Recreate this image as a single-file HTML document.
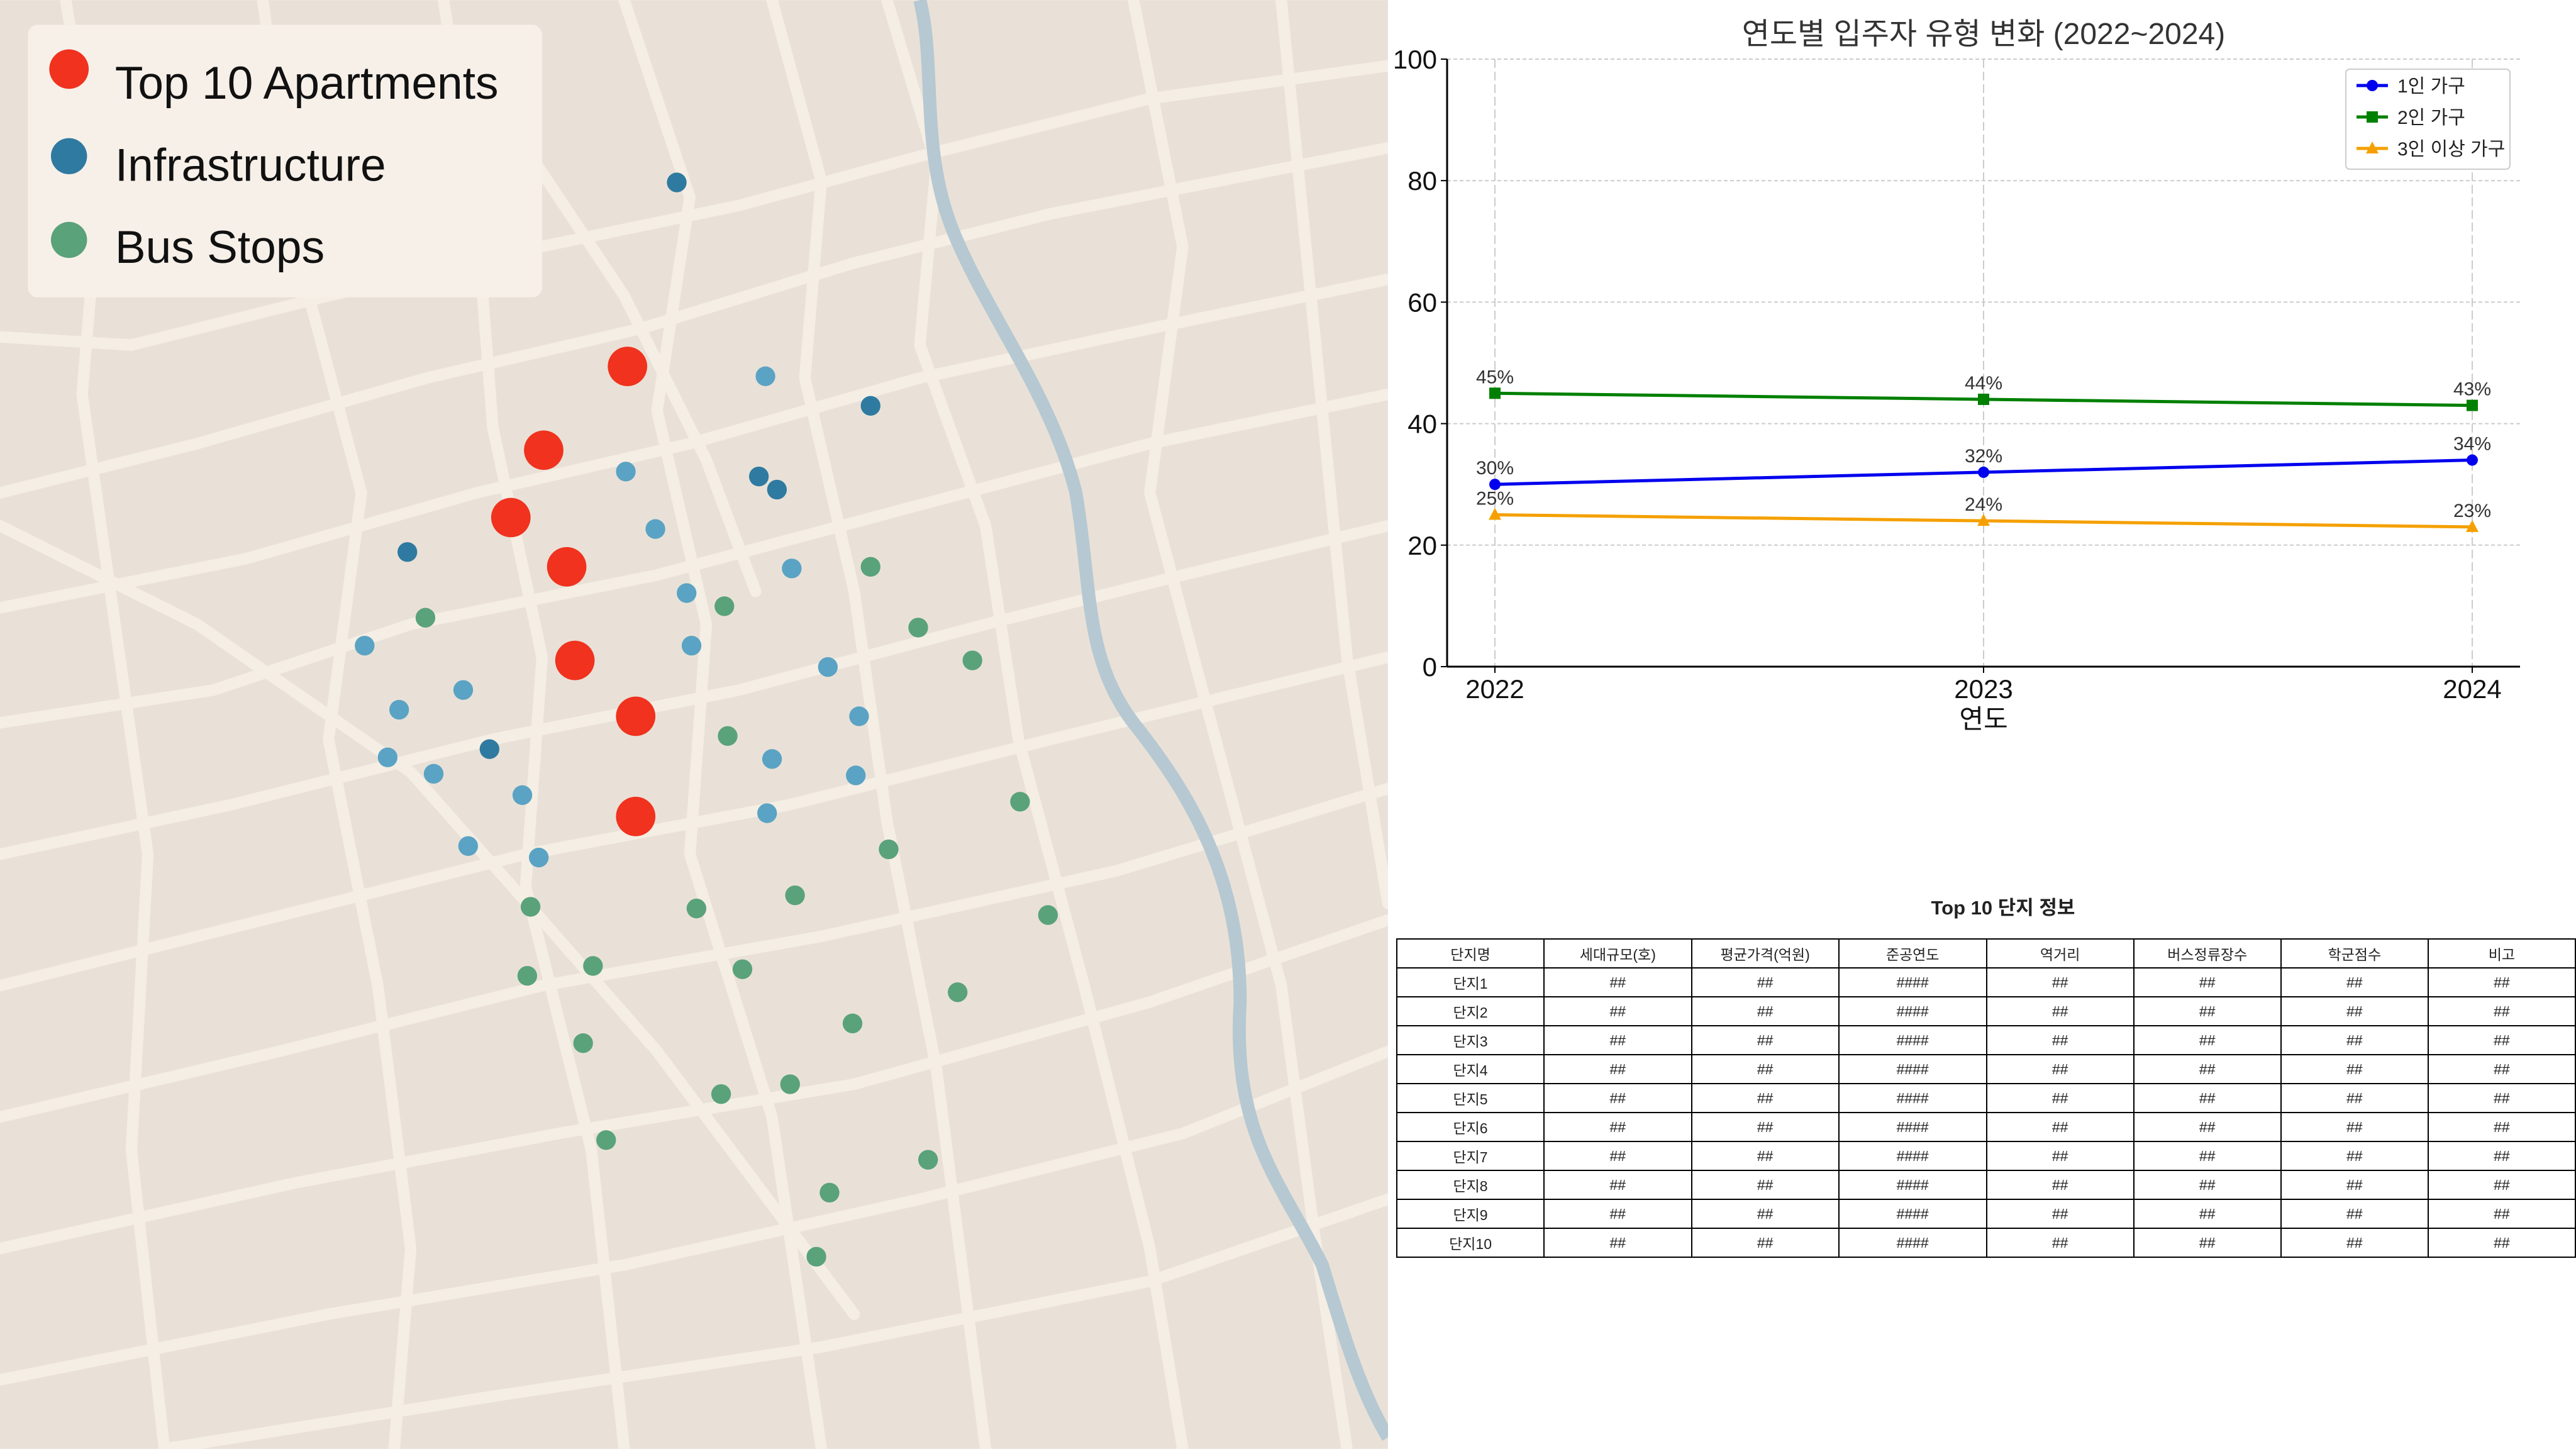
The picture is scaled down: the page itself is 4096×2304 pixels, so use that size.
<!DOCTYPE html>
<html><head><meta charset="utf-8">
<style>
html,body{margin:0;padding:0;}
body{width:4096px;height:2304px;position:relative;overflow:hidden;background:#fff;font-family:"Liberation Sans","Noto Sans CJK KR",sans-serif;}
#map{position:absolute;left:0;top:0;width:2207px;height:2304px;}
#chart{position:absolute;left:2207px;top:0;width:1889px;height:1300px;}
#tbl{position:absolute;left:2220px;top:1492px;border-collapse:collapse;font-size:23px;color:#222;table-layout:fixed;}
#tbl td{border:2px solid #000;width:239px;height:44px;text-align:center;padding:0;}
#tbltitle{position:absolute;left:3000px;top:1418px;width:370px;text-align:center;font-weight:bold;font-size:31px;color:#222;}
</style></head><body>
<svg id="map" viewBox="0 0 845 882" width="2207" height="2304">
<rect width="845" height="882" fill="#e9e1d7"/>
<g fill="none" stroke="#f5eee4" stroke-width="7" stroke-linecap="round">
<polyline points="0,205 80,210 200,180 330,150 450,125 560,95 700,60 845,40"/>
<polyline points="0,300 120,270 260,230 390,200 520,160 640,130 845,90"/>
<polyline points="0,370 150,340 290,300 420,270 560,230 700,200 845,170"/>
<polyline points="0,440 130,420 250,380 400,350 550,310 700,270 845,240"/>
<polyline points="0,520 140,490 300,450 450,420 600,380 720,350 845,320"/>
<polyline points="0,600 160,560 320,520 480,490 640,450 845,400"/>
<polyline points="0,680 170,640 330,600 500,570 680,530 845,480"/>
<polyline points="0,760 180,720 340,690 520,660 700,610 845,560"/>
<polyline points="0,840 200,800 380,770 560,730 720,690 845,640"/>
<polyline points="100,882 300,850 500,820 700,780 845,730"/>
<polyline points="40,0 60,120 50,240 70,380 90,520 80,700 100,882"/>
<polyline points="160,0 180,150 220,300 200,450 230,600 250,760 240,882"/>
<polyline points="270,0 290,130 300,260 330,400 320,540 360,700 380,882"/>
<polyline points="380,0 420,120 400,250 430,380 420,520 470,680 500,882"/>
<polyline points="470,0 500,110 490,230 520,360 540,500 570,650 600,882"/>
<polyline points="540,0 570,100 560,210 600,320 620,450 660,600 700,760 720,882"/>
<polyline points="690,0 720,150 700,300 740,450 780,600 800,750 820,882"/>
<polyline points="780,0 800,200 820,400 845,550"/>
<polyline points="0,320 120,380 250,470 330,560 400,640 460,720 520,800"/>
<polyline points="300,60 380,180 430,280 460,360"/>
</g>
<path d="M560,0 C570,40 560,90 580,140 C600,190 640,240 655,300 C665,360 660,400 690,440 C730,490 755,540 755,610 C750,690 780,720 805,770 C820,820 830,850 845,875" fill="none" stroke="#b6c8d2" stroke-width="8"/>
<g id="pts"></g>
<rect x="17" y="15" width="313" height="166" rx="6" fill="#f7f0e9"/>
<circle cx="42" cy="42" r="12" fill="#f0321e"/>
<circle cx="42" cy="95" r="11" fill="#2f7aa0"/>
<circle cx="42" cy="146" r="11" fill="#5aa27a"/>
<text x="70" y="60" font-size="28" fill="#111">Top 10 Apartments</text>
<text x="70" y="110" font-size="28" fill="#111">Infrastructure</text>
<text x="70" y="160" font-size="28" fill="#111">Bus Stops</text>
</svg>
<svg id="chart" width="1889" height="1300"></svg>
<div id="tbltitle">Top 10 단지 정보</div>
<table id="tbl"></table>
<script>
const NS="http://www.w3.org/2000/svg";
const apts=[[382,223],[331,274],[311,315],[345,345],[350,402],[387,436],[387,497]];
const infraDark=[[412,111],[530,247],[462,290],[473,298],[248,336],[298,456]];
const infraLight=[[466,229],[381,287],[399,322],[418,361],[482,346],[222,393],[421,393],[282,420],[504,406],[243,432],[523,436],[236,461],[470,462],[264,471],[521,472],[318,484],[467,495],[285,515],[328,522]];
const bus=[[530,345],[441,369],[259,376],[559,382],[592,402],[443,448],[621,488],[541,517],[484,545],[323,552],[424,553],[638,557],[361,588],[321,594],[452,590],[583,604],[519,623],[355,635],[481,660],[439,666],[369,694],[565,706],[505,726],[497,765]];
const pts=document.getElementById('pts');
function dot(p,r,c,name){const e=document.createElementNS(NS,'circle');e.setAttribute('cx',p[0]);e.setAttribute('cy',p[1]);e.setAttribute('r',r);e.setAttribute('fill',c);


pts.appendChild(e);}
bus.forEach(p=>dot(p,6,'#5aa27a','bus-stop'));
infraLight.forEach(p=>dot(p,6,'#5aa3c4','infrastructure-point'));
infraDark.forEach(p=>dot(p,6,'#2f7aa0','infrastructure-point'));
apts.forEach(p=>dot(p,12,'#f0321e','apartment-point'));

const years=[2022,2023,2024];
const s1=[30,32,34], s2=[45,44,43], s3=[25,24,23];
const yTicks=[0,20,40,60,80,100];
const names=['1인 가구','2인 가구','3인 이상 가구'];
const C=document.getElementById('chart');
const L=94,R=1800,T=94,B=1060;
const xs=v=>170+(v-2022)/2*1554, ys=v=>B-(v/100)*(B-T);
function el(t,a,txt){const e=document.createElementNS(NS,t);for(const k in a)e.setAttribute(k,a[k]);if(txt!==undefined)e.textContent=txt;C.appendChild(e);return e;}
yTicks.forEach(v=>{if(v>0){const g=el('line',{x1:L,x2:R,y1:ys(v),y2:ys(v),stroke:'#ccc','stroke-width':2,'stroke-dasharray':'6,4'});}
el('line',{x1:L-10,x2:L,y1:ys(v),y2:ys(v),stroke:'#000','stroke-width':2});
const t=el('text',{x:L-16,y:ys(v)+15,'font-size':42,'text-anchor':'end',fill:'#111'},v);});
years.forEach(v=>{const g=el('line',{x1:xs(v),x2:xs(v),y1:T,y2:B,stroke:'#ccc','stroke-width':2,'stroke-dasharray':'14,6'});
el('line',{x1:xs(v),x2:xs(v),y1:B,y2:B+10,stroke:'#000','stroke-width':2});
const t=el('text',{x:xs(v),y:B+50,'font-size':42,'text-anchor':'middle',fill:'#111'},v);});
el('line',{x1:L,x2:L,y1:T,y2:B,stroke:'#000','stroke-width':3});
el('line',{x1:L,x2:R,y1:B,y2:B,stroke:'#000','stroke-width':3});
const tt=el('text',{x:947,y:70,'font-size':48,'text-anchor':'middle',fill:'#333'},'연도별 입주자 유형 변화 (2022~2024)');
const xl=el('text',{x:947,y:1158,'font-size':42,'text-anchor':'middle',fill:'#111'},'연도');
function marker(x,y,c,k){if(k===0)return el('circle',{cx:x,cy:y,r:9,fill:c});if(k===1)return el('rect',{x:x-9,y:y-9,width:18,height:18,fill:c});return el('polygon',{points:`${x},${y-11} ${x+10},${y+8} ${x-10},${y+8}`,fill:c});}
[[s1,'#0000ee'],[s2,'#008000'],[s3,'#f5a000']].forEach(([s,c],k)=>{
const p=el('polyline',{points:s.map((v,i)=>xs(years[i])+','+ys(v)).join(' '),fill:'none',stroke:c,'stroke-width':5});


s.forEach((v,i)=>{const m=marker(xs(years[i]),ys(v),c,k);


const t=el('text',{x:xs(years[i]),y:ys(v)-16,'font-size':30,'text-anchor':'middle',fill:'#333'},v+'%');

});});
const lg=el('rect',{x:1523,y:110,width:261,height:159,rx:6,fill:'#fff',stroke:'#ccc','stroke-width':2});
[['#0000ee'],['#008000'],['#f5a000']].forEach(([c],k)=>{const y=136+k*50;
el('line',{x1:1540,x2:1590,y1:y,y2:y,stroke:c,'stroke-width':5});marker(1565,y,c,k);
const t=el('text',{x:1605,y:y+11,'font-size':30,fill:'#222'},names[k]);

});

const heads=['단지명','세대규모(호)','평균가격(억원)','준공연도','역거리','버스정류장수','학군점수','비고'];
const vals=['##','##','####','##','##','##','##'];
const tb=document.getElementById('tbl');
let tr=document.createElement('tr');heads.forEach(h=>{const td=document.createElement('td');td.textContent=h;tr.appendChild(td);});


tb.appendChild(tr);
for(let i=1;i<=10;i++){tr=document.createElement('tr');


['단지'+i].concat(vals).forEach(v=>{const td=document.createElement('td');td.textContent=v;tr.appendChild(td);});tb.appendChild(tr);}
</script>
</body></html>
